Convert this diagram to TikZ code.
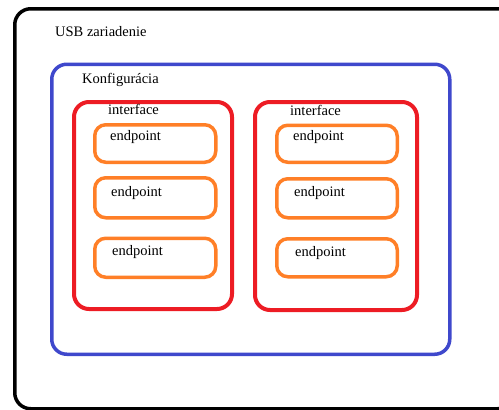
\documentclass[tikz,border=0pt]{standalone}
\usepackage{fontspec}
\setmainfont{Liberation Serif}
\usepackage{tikz}
\usetikzlibrary{positioning}
\definecolor{paintblue}{HTML}{3F48CC}
\definecolor{paintred}{HTML}{ED1C24}
\definecolor{paintorange}{HTML}{FF7F27}

\begin{document}
\begin{tikzpicture}[x=1pt, y=-1pt]
        \tikzstyle{box} = [shape=rectangle, draw, inner sep=0pt, anchor=north west]
        \tikzstyle{devicebox} = [box, draw=black, line width=3.5pt, rounded corners=16pt]
        \tikzstyle{configbox} = [box, draw=paintblue, line width=3.5pt, rounded corners=15pt]
        \tikzstyle{ifacebox} = [box, draw=paintred, line width=4pt, rounded corners=15pt]
        \tikzstyle{epbox} = [box, draw=paintorange, line width=3.5pt, rounded corners=11pt, minimum height=39pt]
        \tikzstyle{lbl} = [anchor=base west, inner sep=0pt, font=\fontsize{14.5}{16}\selectfont]
        \useasboundingbox (0,0) rectangle (499,410);

        % outer boxes
        \node [devicebox, name=device, minimum width=499pt, minimum height=400pt] at (13,7) {};
        \node [configbox, name=config, minimum width=398pt, minimum height=290pt] at (50,62.5) {};
        \node [lbl, name=deviceText] at (55,36) {USB zariadenie};
        \node [lbl, name=configText] at (82,83.5) {Konfigurácia};

        % interface 0
        \node [ifacebox, name=ifaceA, minimum width=158pt, minimum height=207pt] at (72,100) {};
        \node [lbl, name=ifaceAText] at (108,114) {interface};
        \node [epbox, name=epA1, minimum width=121pt, minimum height=37.5pt] at (93,123) {};
        \node [epbox, name=epA2, minimum width=121pt, minimum height=40pt] at (93,176) {};
        \node [epbox, name=epA3, minimum width=121pt] at (93,236.5) {};
        \node [lbl, name=epA1Text] at (110,140) {endpoint};
        \node [lbl, name=epA2Text] at (111,196) {endpoint};
        \node [lbl, name=epA3Text] at (112,255.5) {endpoint};

        % interface 1
        \node [ifacebox, name=ifaceB, minimum width=162pt, minimum height=208pt] at (253,100) {};
        \node [lbl, name=ifaceBText] at (290,115) {interface};
        \node [epbox, name=epB1, minimum width=120.5pt, minimum height=37pt] at (275,123.5) {};
        \node [epbox, name=epB2, minimum width=120.5pt] at (275,177) {};
        \node [epbox, name=epB3, minimum width=120.5pt, minimum height=38pt] at (275,237) {};
        \node [lbl, name=epB1Text] at (293,140.5) {endpoint};
        \node [lbl, name=epB2Text] at (294,196.5) {endpoint};
        \node [lbl, name=epB3Text] at (295,256) {endpoint};
\end{tikzpicture}
\end{document}
